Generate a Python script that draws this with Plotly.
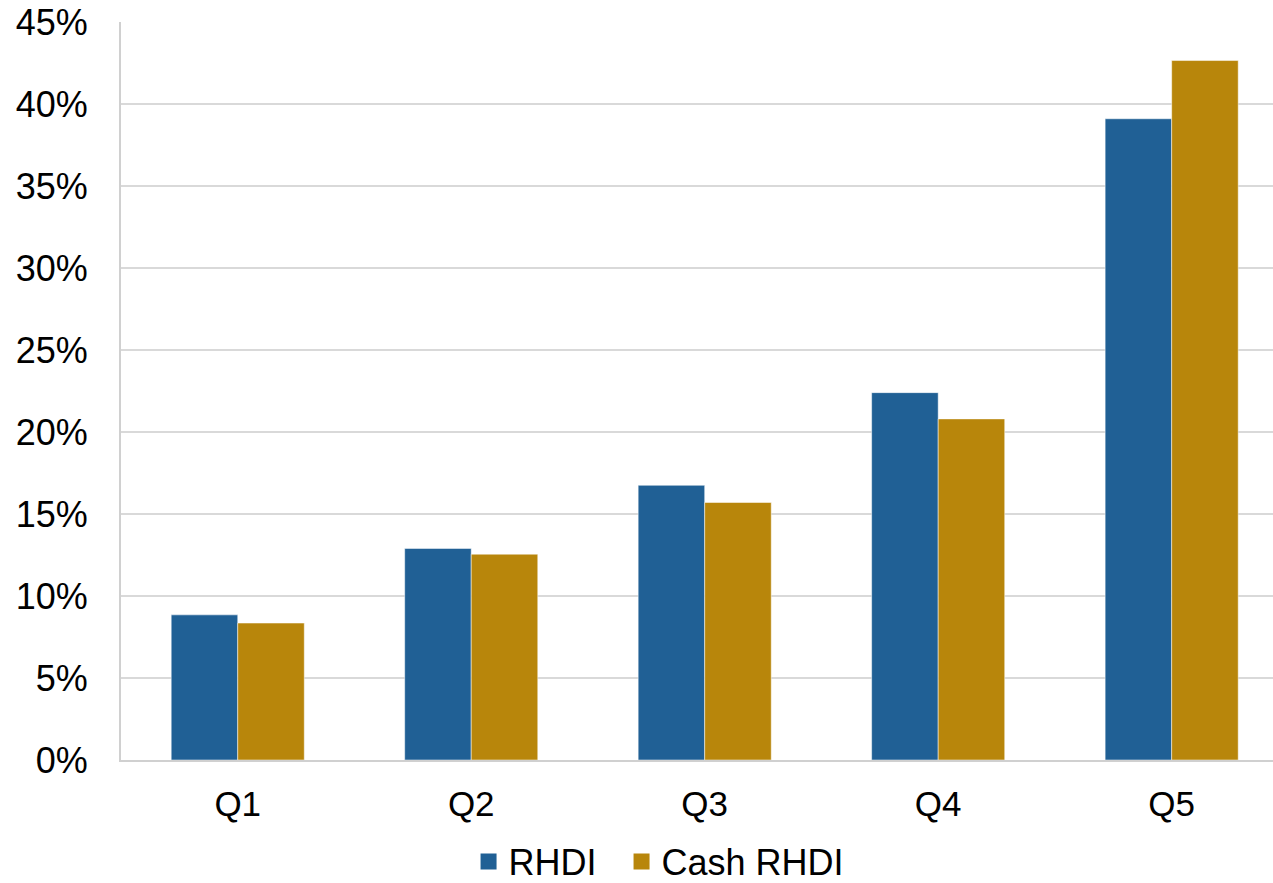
import plotly.graph_objects as go

categories = ["Q1", "Q2", "Q3", "Q4", "Q5"]
rhdi = [8.85, 12.9, 16.75, 22.4, 39.1]
cash_rhdi = [8.35, 12.55, 15.7, 20.8, 42.65]
series_names = ["RHDI", "Cash RHDI"]
series_colors = ["#206095", "#B8860B"]
tick_vals = [0, 5, 10, 15, 20, 25, 30, 35, 40, 45]
tick_text = [f"{v}%" for v in tick_vals]

fig = go.Figure()
for name, vals, col in zip(series_names, [rhdi, cash_rhdi], series_colors):
    fig.add_trace(go.Bar(x=categories, y=vals, name=name, showlegend=False, legendgroup=name,
                         marker=dict(color=col, line=dict(color="white", width=0.5))))
legend_ids = ["legend", "legend2"]
for name, col, lid in zip(series_names, series_colors, legend_ids):
    fig.add_trace(go.Scatter(x=[None], y=[None], mode="markers", name=name, legendgroup=name,
                             legend=lid,
                             marker=dict(symbol="square", size=19, color=col), showlegend=True))

legend_common = dict(orientation="h", xanchor="left", y=-0.1375, yanchor="middle",
                     font=dict(size=36), itemwidth=30, bgcolor="rgba(0,0,0,0)")

fig.update_layout(
    width=1273, height=883,
    margin=dict(l=121, r=0, t=22, b=123, autoexpand=False),
    plot_bgcolor="white", paper_bgcolor="white",
    font=dict(family="Liberation Sans, Arial, sans-serif", size=36, color="black"),
    barmode="group", bargap=0.43, bargroupgap=0,
    showlegend=True,
    legend=dict(x=0.3017, **legend_common),
    legend2=dict(x=0.4345, **legend_common),
    xaxis=dict(showline=True, linecolor="#d0d0d0", linewidth=2, ticks="", showgrid=False,
               tickfont=dict(size=35), ticklabelstandoff=12, range=[-0.5, 4.434]),
    yaxis=dict(range=[0, 45], tickvals=tick_vals, ticktext=tick_text, showgrid=True,
               gridcolor="#d9d9d9", gridwidth=2, showline=True, linecolor="#d0d0d0", linewidth=2,
               ticks="", ticklabelstandoff=24, zeroline=False, tickfont=dict(size=36)),
)

fig.write_html("out.html")
